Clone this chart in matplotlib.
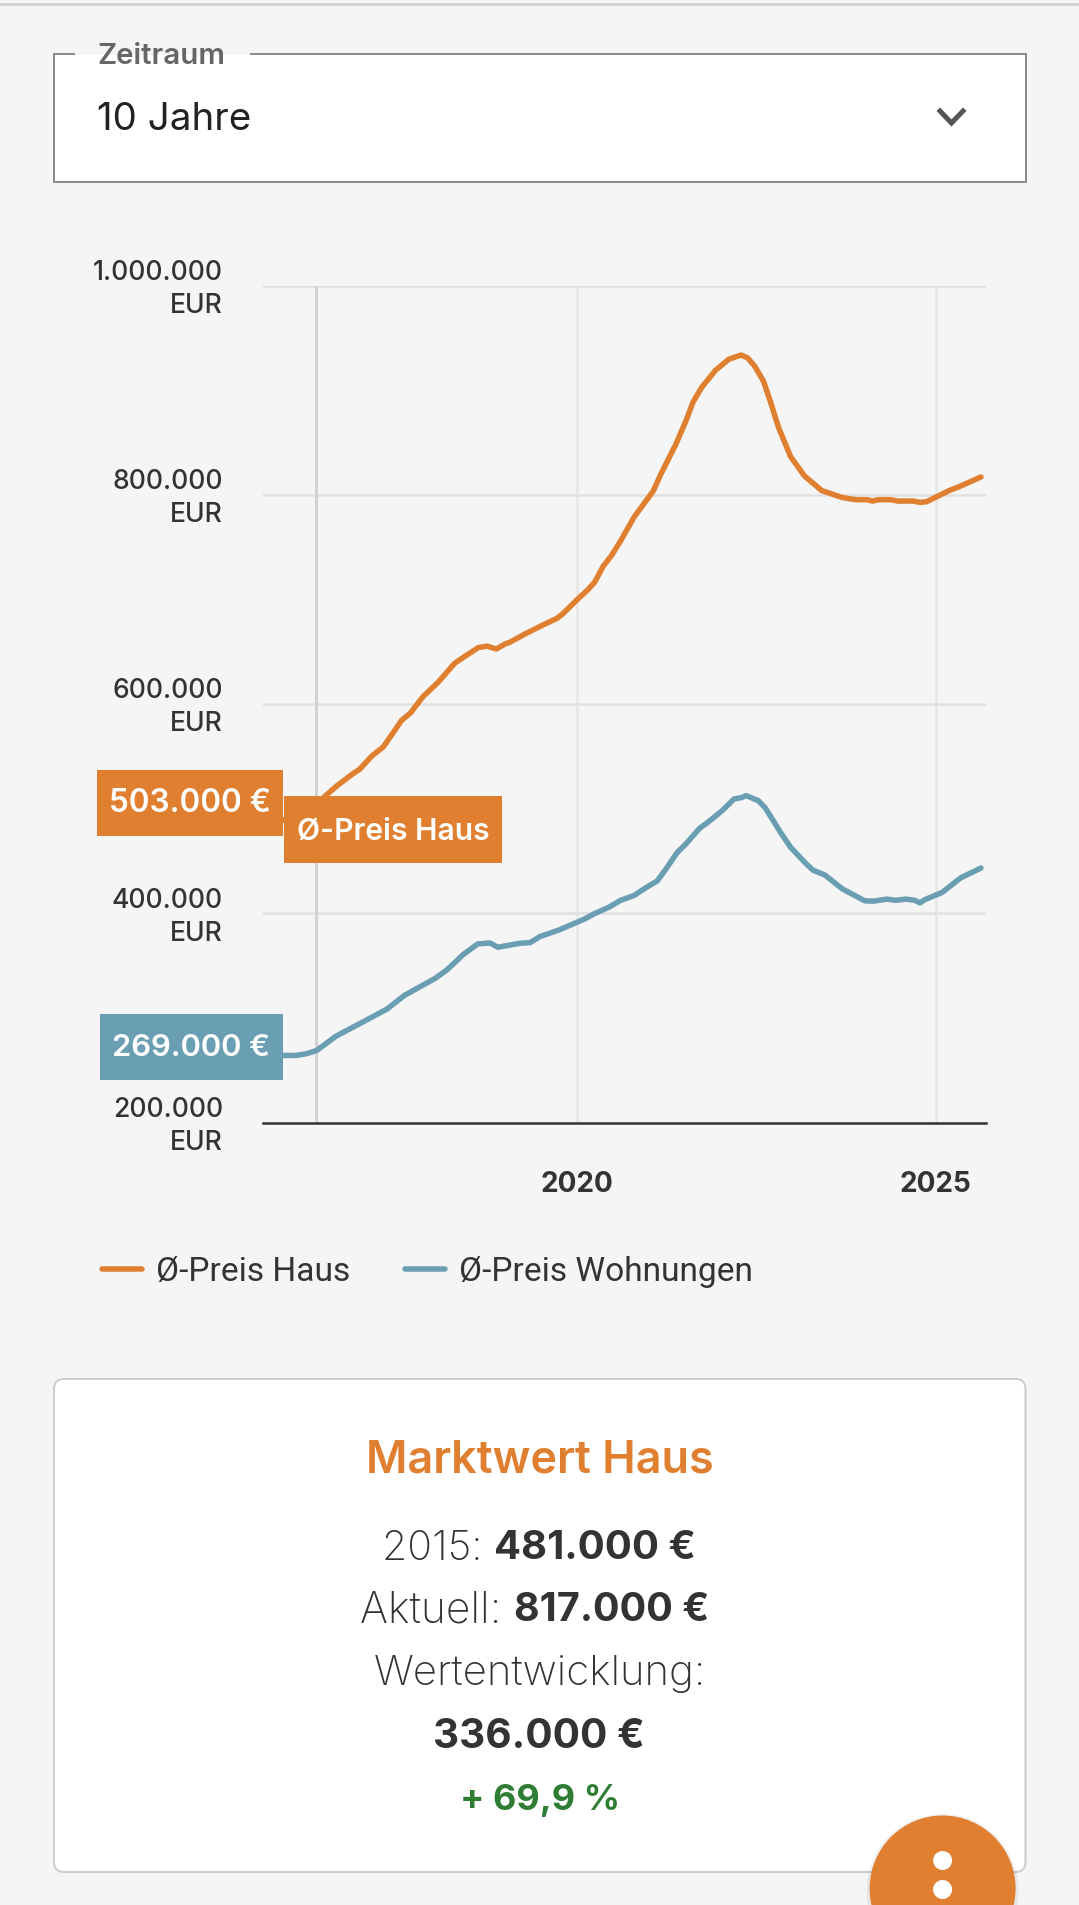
import matplotlib
matplotlib.use("Agg")
import matplotlib.pyplot as plt
from matplotlib.patches import Rectangle, FancyBboxPatch, Circle
from matplotlib.lines import Line2D
from matplotlib.transforms import ScaledTranslation

W, H, DPI = 1079, 1906, 100
BG = "#f5f5f5"; ORANGE = "#e07f30"; BLUE = "#6a9eb3"; DARK = "#333333"
FONT = "Inter"
plt.rcParams["font.family"] = [FONT, "DejaVu Sans"]

haus_years = [2015.63, 2016.38, 2016.49, 2016.66, 2016.87, 2016.98, 2017.14, 2017.31, 2017.56, 2017.68,
              2017.86, 2018.07, 2018.30, 2018.40, 2018.63, 2018.75, 2018.88, 2019.00, 2019.07, 2019.28,
              2019.53, 2019.72, 2019.81, 2020.00, 2020.16, 2020.25, 2020.37, 2020.48, 2020.61, 2020.80,
              2020.92, 2021.07, 2021.16, 2021.38, 2021.52, 2021.62, 2021.74, 2021.93, 2022.12, 2022.29,
              2022.38, 2022.48, 2022.60, 2022.70, 2022.81, 2022.98, 2023.17, 2023.41, 2023.70, 2023.89,
              2024.04, 2024.12, 2024.20, 2024.37, 2024.47, 2024.68, 2024.78, 2024.87, 2025.19, 2025.31, 2025.63]
haus_values = [481.0, 503.0, 511.7, 521.9, 532.8, 537.9, 549.9, 559.4, 584.4, 591.2,
               607.2, 620.9, 639.0, 643.7, 654.0, 655.4, 652.6, 657.4, 659.1, 667.0,
               675.6, 681.7, 686.5, 699.4, 709.6, 716.5, 731.9, 741.5, 755.8, 778.8,
               790.0, 804.1, 818.1, 848.3, 870.5, 888.6, 902.6, 918.8, 929.6, 933.6,
               930.8, 922.8, 908.7, 888.6, 864.4, 836.3, 818.1, 804.1, 797.3, 795.3,
               795.3, 794.0, 795.3, 795.3, 794.0, 794.0, 792.8, 793.3, 804.1, 807.3, 817.0]

wohnung_years = [2015.63, 2015.90, 2016.09, 2016.24, 2016.38, 2016.64, 2016.95, 2017.36, 2017.60, 2018.03,
                 2018.20, 2018.42, 2018.62, 2018.79, 2018.90, 2019.21, 2019.35, 2019.49, 2019.75, 2020.11,
                 2020.25, 2020.45, 2020.61, 2020.80, 2020.97, 2021.12, 2021.24, 2021.40, 2021.52, 2021.71,
                 2021.83, 2022.03, 2022.19, 2022.29, 2022.36, 2022.53, 2022.62, 2022.74, 2022.84, 2022.98,
                 2023.20, 2023.29, 2023.46, 2023.70, 2024.01, 2024.13, 2024.32, 2024.44, 2024.59, 2024.71,
                 2024.78, 2024.85, 2025.09, 2025.35, 2025.63]
wohnung_values = [263.0, 264.2, 264.2, 265.9, 269.0, 282.3, 293.6, 308.6, 321.6, 337.9,
                  346.4, 360.7, 370.7, 371.7, 367.6, 371.4, 372.0, 377.9, 384.0, 394.6,
                  399.8, 405.9, 412.4, 417.1, 424.8, 430.9, 442.1, 458.2, 466.3, 481.2,
                  487.2, 498.4, 509.3, 510.5, 512.5, 507.6, 501.2, 488.3, 477.0, 463.0,
                  447.0, 441.3, 436.4, 423.3, 412.0, 411.6, 413.6, 412.4, 413.6, 412.4,
                  410.0, 413.1, 420.0, 434.0, 443.3]

y_ticks = [200, 400, 600, 800, 1000]
y_labels = ["200.000\nEUR", "400.000\nEUR", "600.000\nEUR", "800.000\nEUR", "1.000.000\nEUR"]
x_ticks = [2020, 2025]
x_labels = ["2020", "2025"]
hover_year = 2016.37
series_names = ["Ø-Preis Haus", "Ø-Preis Wohnungen"]
hover_labels = ["503.000 €", "269.000 €"]
dropdown_label, dropdown_value = "Zeitraum", "10 Jahre"
card_title = "Marktwert Haus"

fig = plt.figure(figsize=(W / DPI, H / DPI), dpi=DPI, facecolor=BG)
px = lambda v: v * 72 / DPI  # pixels to points

AX_L, AX_R, AX_T, AX_B = 263, 986, 286.5, 1123.6
ax = fig.add_axes([AX_L / W, 1 - AX_B / H, (AX_R - AX_L) / W, (AX_B - AX_T) / H], facecolor="none")
ax.set_xlim(2015.63, 2025.70)
ax.set_ylim(200, 1000)
for s in ["top", "right", "left"]:
    ax.spines[s].set_visible(False)
ax.spines["bottom"].set_color(DARK)
ax.spines["bottom"].set_linewidth(px(2.5))
ax.set_yticks(y_ticks)
ax.set_yticklabels(y_labels, fontsize=px(26.5), color=DARK, fontweight="medium", ha="right",
                   multialignment="right", linespacing=1.34)
ax.tick_params(axis="y", length=0, pad=px(40))
for lbl in ax.get_yticklabels():
    lbl.set_transform(lbl.get_transform() + ScaledTranslation(0, 3.6 / DPI, fig.dpi_scale_trans))
ax.set_xticks(x_ticks)
ax.set_xticklabels(x_labels, fontsize=px(28), color=DARK, fontweight="bold")
ax.tick_params(axis="x", length=0, pad=px(47))
ax.grid(True, axis="y", color="#e0e0e0", linewidth=px(2.5), zorder=1)
ax.grid(True, axis="x", color="#e6e6e6", linewidth=px(2.5), zorder=1)
ax.set_axisbelow(True)
ax.axvline(hover_year, color="#d2d2d2", linewidth=px(3), zorder=1.5)
l1, = ax.plot(haus_years, haus_values, color=ORANGE, linewidth=px(5.5), solid_capstyle="round",
              label=series_names[0], zorder=3)
l2, = ax.plot(wohnung_years, wohnung_values, color=BLUE, linewidth=px(5.5), solid_capstyle="round",
              label=series_names[1], zorder=3)

fig.legend(handles=[l1, l2], loc="upper left", bbox_to_anchor=(102 / W, 1 - 1256.5 / H), ncol=2, frameon=False,
           prop={"family": "Roboto", "size": px(33.5)}, labelcolor=DARK, handlelength=1.2, handletextpad=0.42,
           columnspacing=1.62, borderpad=0, borderaxespad=0)

# page chrome, in pixel coordinates
ui = fig.add_axes([0, 0, 1, 1], facecolor="none", zorder=5)
ui.set_xlim(0, W); ui.set_ylim(H, 0); ui.axis("off")

ui.add_patch(Rectangle((0, 4), W, 2.5, fc="#d4d4d4", ec="none"))
ui.add_patch(Rectangle((54, 54.5), 972, 128, fc="white", ec="#8c8c8c", lw=px(2)))
ui.add_patch(Rectangle((75, 51), 175, 7, fc=BG, ec="none"))
ui.add_patch(Rectangle((75, 55.5), 175, 4, fc="white", ec="none"))
ui.text(97, 56, dropdown_label, fontsize=px(29.5), color="#666666", fontweight="semibold", ha="left", va="center")
ui.text(97, 120, dropdown_value, fontsize=px(38.5), color="#222222", ha="left", va="center")
ui.add_line(Line2D([940, 951.5, 963], [112, 124, 112], color="#555555", lw=px(5), solid_joinstyle="miter"))


def tag(x0, y0, x1, y1, color, text, tx, ty, size=30):
    ui.add_patch(Rectangle((x0, y0), x1 - x0, y1 - y0, fc=color, ec="none"))
    ui.text(tx, ty, text, fontsize=px(size), color="white", fontweight="semibold", ha="center", va="center")


tag(97, 771, 282.7, 836.8, ORANGE, hover_labels[0], 190, 804, size=31.5)
tag(283.7, 797, 501.7, 863.6, ORANGE, series_names[0], 393, 831)
tag(100, 1014.6, 282.7, 1081.4, BLUE, hover_labels[1], 191, 1048, size=31)

ui.add_patch(FancyBboxPatch((54, 1380), 971.5, 493, boxstyle="round,pad=0,rounding_size=10", fc="white",
                            ec="#cdcdcd", lw=px(2)))
ui.text(540, 1460.5, card_title, fontsize=px(45), color=ORANGE, fontweight="semibold", ha="center", va="center")


def mixed(y, parts, color=DARK, cx=540):
    """Centre a run of differently weighted text pieces on one line."""
    r = fig.canvas.get_renderer()
    objs = [ui.text(0, y, t, fontsize=px(s), color=color, fontweight=w, ha="left", va="center_baseline")
            for t, w, s in parts]
    widths = [o.get_window_extent(r).width for o in objs]
    x = cx - sum(widths) / 2
    for o, wd in zip(objs, widths):
        o.set_x(x)
        x += wd


mixed(1545, [("2015: ", "light", 41), ("481.000 €", "bold", 40)], cx=539)
mixed(1607, [("Aktuell: ", "light", 42.5), ("817.000 €", "bold", 39.5)], cx=534.5)
mixed(1670, [("Wertentwicklung:", "light", 42)])
mixed(1733, [("336.000 €", "bold", 40.5)], cx=539)
mixed(1797, [("+ 69,9 %", "bold", 36)], color="#2e7d32")

ui.add_patch(Circle((942.6, 1891), 76, fc="black", ec="none", alpha=0.06))
ui.add_patch(Circle((942.6, 1889.5), 73, fc=ORANGE, ec="none"))
ui.add_patch(Circle((942.6, 1861.5), 9.5, fc="white", ec="none"))
ui.add_patch(Circle((942.6, 1890.5), 9.5, fc="white", ec="none"))

fig.savefig("out.png", dpi=DPI, facecolor=BG)
